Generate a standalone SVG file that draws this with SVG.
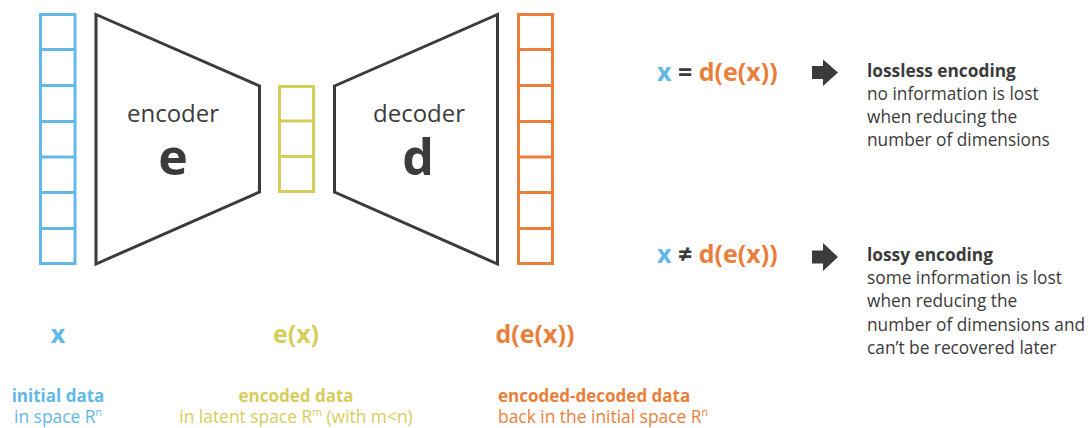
<svg xmlns="http://www.w3.org/2000/svg" width="1091" height="428" viewBox="0 0 1091 428">
  <style>
    .cell { fill: #ffffff; stroke-width: 3; }
    .blue { stroke: #62b9e8; }
    .yellow { stroke: #d6cd5c; }
    .orange { stroke: #e97f3a; }
    .block { fill: #ffffff; stroke: #3b3b3b; stroke-width: 3; stroke-linejoin: miter; }
    text { font-family: "Open Sans", "Liberation Sans", sans-serif; }
    .name { font-size: 24px; fill: #3b3b3b; text-anchor: middle; }
    .fn { font-size: 50px; font-weight: 700; fill: #3b3b3b; text-anchor: middle; }
    .sym { font-size: 25px; font-weight: 700; }
    .tb { fill: #62b9e8; }
    .ty { fill: #d6cd5c; }
    .to { fill: #e97f3a; }
    .tk { fill: #3b3b3b; }
    .head { font-size: 17.3px; font-weight: 700; }
    .body { font-size: 17.3px; }
    .desc { font-size: 17.4px; }
    .desc-b { font-size: 17px; font-weight: 700; }
    .arrow { fill: #3b3b3b; }
  </style>

  <!-- input vector x: 7 cells -->
  <g id="input-vector">
    <rect class="cell blue" x="40.5" y="14.5" width="34.5" height="249"/>
    <path class="cell blue" d="M40.5 49.5H75M40.5 85.5H75M40.5 121.5H75M40.5 157H75M40.5 192.5H75M40.5 228.5H75"/>
  </g>

  <!-- encoder block -->
  <g id="encoder">
    <polygon class="block" points="96,14.5 259.5,86 259.5,192 96,264"/>
    <text class="name" x="173" y="122">encoder</text>
    <text class="fn" x="173" y="175">e</text>
  </g>

  <!-- latent vector e(x): 3 cells -->
  <g id="latent-vector">
    <rect class="cell yellow" x="279.5" y="86.5" width="34" height="105"/>
    <path class="cell yellow" d="M279.5 121H313.5M279.5 156.5H313.5"/>
  </g>

  <!-- decoder block -->
  <g id="decoder">
    <polygon class="block" points="334.5,86 497.5,14.5 497.5,264 334.5,192"/>
    <text class="name" x="419" y="122">decoder</text>
    <text class="fn" x="418" y="175">d</text>
  </g>

  <!-- output vector d(e(x)): 7 cells -->
  <g id="output-vector">
    <rect class="cell orange" x="518.5" y="14.5" width="34" height="249"/>
    <path class="cell orange" d="M518.5 49.5H552.5M518.5 85.5H552.5M518.5 121.5H552.5M518.5 157H552.5M518.5 192.5H552.5M518.5 228.5H552.5"/>
  </g>

  <!-- labels under the vectors -->
  <g id="label-x">
    <text class="sym tb" x="58" y="343" text-anchor="middle">x</text>
    <text class="desc-b tb" x="58" y="402" text-anchor="middle">initial data</text>
    <text class="desc tb" x="58" y="423" text-anchor="middle">in space R<tspan font-size="10.5" dy="-7">n</tspan></text>
  </g>
  <g id="label-ex">
    <text class="sym ty" x="296" y="343" text-anchor="middle">e(x)</text>
    <text class="desc-b ty" x="296" y="402" text-anchor="middle">encoded data</text>
    <text class="desc ty" x="296" y="423" text-anchor="middle">in latent space R<tspan font-size="10.5" dy="-7">m</tspan><tspan dy="7"> (with m&lt;n)</tspan></text>
  </g>
  <g id="label-dex">
    <text class="sym to" x="535" y="343" text-anchor="middle">d(e(x))</text>
    <text class="desc-b to" x="498" y="402">encoded-decoded data</text>
    <text class="desc to" x="498" y="423">back in the initial space R<tspan font-size="10.5" dy="-7">n</tspan></text>
  </g>

  <!-- lossless case -->
  <g id="lossless">
    <text class="sym" x="657" y="81"><tspan class="tb">x</tspan><tspan class="tk"> = </tspan><tspan class="to">d(e(x))</tspan></text>
    <text class="head tk" x="867" y="77">lossless encoding</text>
    <text class="body tk" x="867" y="100">no information is lost</text>
    <text class="body tk" x="867" y="123">when reducing the</text>
    <text class="body tk" x="867" y="146">number of dimensions</text>
  </g>

  <!-- lossy case -->
  <g id="lossy">
    <text class="sym" x="657" y="263"><tspan class="tb">x</tspan><tspan class="tk"> ≠ </tspan><tspan class="to">d(e(x))</tspan></text>
    <text class="head tk" x="867" y="261">lossy encoding</text>
    <text class="body tk" x="867" y="284">some information is lost</text>
    <text class="body tk" x="867" y="307">when reducing the</text>
    <text class="body tk" x="867" y="331">number of dimensions and</text>
    <text class="body tk" x="867" y="354">can’t be recovered later</text>
  </g>

  <!-- implication arrows -->
  <g id="connectors">
    <polygon class="arrow" points="812,66 823,66 823,59.5 838,72.5 823,86 823,79 812,79"/>
    <polygon class="arrow" points="812,250.5 823,250.5 823,243 838,257 823,271 823,263.5 812,263.5"/>
  </g>
</svg>
